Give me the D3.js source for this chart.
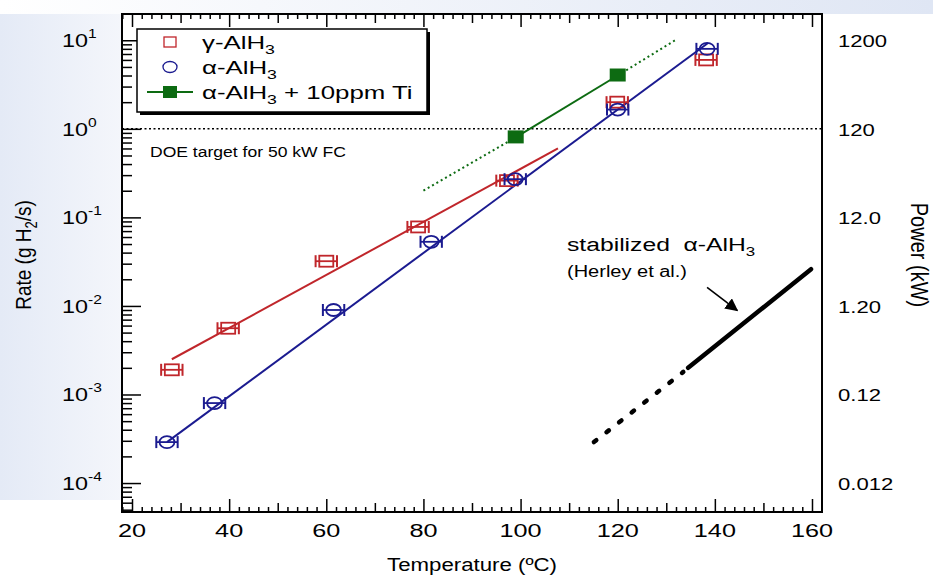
<!DOCTYPE html>
<html><head><meta charset="utf-8">
<script src="https://cdn.jsdelivr.net/npm/d3@7"></script>
<style>
html,body{margin:0;padding:0;background:#fff;}
svg text{font-family:"Liberation Sans",Arial,Helvetica,sans-serif;}
</style></head>
<body><svg id="c" width="933" height="577"></svg>
<script>
// ---- data ----
const gammaT    = [28.2, 39.8, 60.0, 78.9, 97.2, 119.9, 138.2];
const gammaRate = [1.9e-3, 5.6e-3, 0.032, 0.078, 0.26, 2.0, 6.0];
const alphaT    = [27.2, 37.0, 61.5, 81.6, 98.9, 120.0, 138.4];
const alphaRate = [2.9e-4, 8.0e-4, 0.009, 0.053, 0.27, 1.65, 8.0];
const tiT       = [99.0, 120.0];
const tiRate    = [0.80, 4.0];
const gammaFitT = [28.2, 107.7];
const gammaFitRate = [2.5e-3, 0.60];
const alphaFitT = [27.2, 138.6];
const alphaFitRate = [2.9e-4, 9.3];
const tiDotLowT = [80.0, 99.0];
const tiDotLowRate = [0.20, 0.80];
const tiDotHighT = [120.0, 132.2];
const tiDotHighRate = [4.0, 10.3];
const herleySolidT = [134.5, 159.8];
const herleySolidRate = [2.0e-3, 0.026];
const herleyDashT = [115.1, 133.5];
const herleyDashRate = [2.9e-4, 1.8e-3];
const arrowT = [138.4, 144.6];
const arrowRate = [0.0162, 0.0089];
const doeRate = 1.0;
const xTickLabels = [20, 40, 60, 80, 100, 120, 140, 160];
const yDecades = [1, 0, -1, -2, -3, -4];
const powerLabels = ["1200", "120", "12.0", "1.20", "0.12", "0.012"];

// ---- layout ----
const svg = d3.select("#c");
const L = 122, R = 822, T = 14, B = 512;
const x = d3.scaleLinear().domain([17.94, 162.06]).range([L, R]);
const y = d3.scaleLog().domain([4.71e-5, 19.8]).range([B, 14]);

const red = "#c0262b", blue = "#1b1b90", green = "#0d6b12";

// background tint
const defs = svg.append("defs");
const lg = defs.append("linearGradient").attr("id", "bgL").attr("x1", 0).attr("x2", 1).attr("y1", 0).attr("y2", 0);
lg.append("stop").attr("offset", 0).attr("stop-color", "#e4eaf6");
lg.append("stop").attr("offset", 1).attr("stop-color", "#f4f6fb");
const tg = defs.append("linearGradient").attr("id", "bgT").attr("x1", 0).attr("x2", 1).attr("y1", 0).attr("y2", 0);
tg.append("stop").attr("offset", 0).attr("stop-color", "#ffffff");
tg.append("stop").attr("offset", 1).attr("stop-color", "#dfe6f4");
svg.append("rect").attr("x", 0).attr("y", 0).attr("width", 933).attr("height", 577).attr("fill", "#fff");
svg.append("rect").attr("x", 0).attr("y", 0).attr("width", L).attr("height", 500).attr("fill", "url(#bgL)");
svg.append("rect").attr("x", 0).attr("y", 0).attr("width", 933).attr("height", T).attr("fill", "url(#bgT)");
svg.append("rect").attr("x", L).attr("y", T).attr("width", R - L).attr("height", B - T).attr("fill", "#fff");

function stretchText(sel, px, py, sx) {
  return sel.attr("transform", `translate(${px},${py}) scale(${sx || 1.3},1)`);
}

// ---- axes (ticks inward) ----
const minorY = [];
for (let e = -5; e <= 1; e++) for (let m = 2; m <= 9; m++) {
  const v = m * Math.pow(10, e);
  if (v >= y.domain()[0] && v <= y.domain()[1]) minorY.push(v);
}
const majorY = yDecades.map(e => Math.pow(10, e));
const axL = svg.append("g").attr("transform", `translate(${L},0)`);
axL.call(d3.axisLeft(y).tickValues(majorY).tickSizeInner(-19).tickSizeOuter(0).tickFormat(""));
axL.append("g").call(d3.axisLeft(y).tickValues(minorY).tickSizeInner(-10).tickSizeOuter(0).tickFormat(""));

const t2 = d3.range(18, 163, 2).filter(v => v % 10 !== 0);
const t10 = d3.range(30, 161, 20);
const t20 = xTickLabels;
const axB = svg.append("g").attr("transform", `translate(0,${B})`);
axB.call(d3.axisBottom(x).tickValues(t20).tickSizeInner(-13).tickSizeOuter(0).tickFormat(""));
axB.append("g").call(d3.axisBottom(x).tickValues(t10).tickSizeInner(-9).tickSizeOuter(0).tickFormat(""));
axB.append("g").call(d3.axisBottom(x).tickValues(t2).tickSizeInner(-5).tickSizeOuter(0).tickFormat(""));
const axT = svg.append("g").attr("transform", `translate(0,${T})`);
axT.call(d3.axisTop(x).tickValues(t20).tickSizeInner(-13).tickSizeOuter(0).tickFormat(""));
axT.append("g").call(d3.axisTop(x).tickValues(t10).tickSizeInner(-9).tickSizeOuter(0).tickFormat(""));
axT.append("g").call(d3.axisTop(x).tickValues(t2).tickSizeInner(-5).tickSizeOuter(0).tickFormat(""));
svg.selectAll(".domain").remove();
svg.selectAll(".tick line").attr("stroke", "#000").attr("stroke-width", 1.5);

// frame
svg.append("rect").attr("x", L).attr("y", T).attr("width", R - L).attr("height", B - T)
  .attr("fill", "none").attr("stroke", "#000").attr("stroke-width", 2);

// ---- tick labels ----
yDecades.forEach(e => {
  const t = svg.append("text").attr("font-size", 18).attr("fill", "#000");
  stretchText(t, 62, y(Math.pow(10, e)) + 7, 1.3);
  t.append("tspan").text("10");
  t.append("tspan").attr("font-size", 12).attr("dy", -9).text(String(e));
});
powerLabels.forEach((s, i) => {
  const t = svg.append("text").attr("font-size", 17).attr("fill", "#000").text(s);
  stretchText(t, 838, y(Math.pow(10, yDecades[i])) + 7, 1.3);
});
xTickLabels.forEach(v => {
  const t = svg.append("text").attr("font-size", 19).attr("text-anchor", "middle").attr("fill", "#000").text(v);
  stretchText(t, x(v), 537, 1.33);
});

// axis titles
stretchText(svg.append("text").attr("font-size", 17.5).attr("text-anchor", "middle").text("Temperature (ºC)"), 472, 571, 1.27);
const yt = svg.append("text").attr("font-size", 19).attr("text-anchor", "middle")
  .attr("transform", `translate(31,255) rotate(-90) scale(1,1.2)`);
yt.append("tspan").text("Rate (g H");
yt.append("tspan").attr("font-size", 13).attr("dy", 5).text("2");
yt.append("tspan").attr("dy", -5).text("/s)");
svg.append("text").attr("font-size", 20).attr("text-anchor", "middle")
  .attr("transform", `translate(911,255) rotate(90) scale(1,1.15)`).text("Power (kW)");

// ---- reference lines ----
svg.append("line").attr("x1", L).attr("x2", R).attr("y1", y(doeRate)).attr("y2", y(doeRate))
  .attr("stroke", "#000").attr("stroke-width", 1.5).attr("stroke-dasharray", "2,2.5");
stretchText(svg.append("text").attr("font-size", 15).text("DOE target for 50 kW FC"), 150, 157, 1.17);

const line = d3.line().x(d => x(d[0])).y(d => y(d[1]));
const zip = (a, b) => a.map((v, i) => [v, b[i]]);

svg.append("path").attr("d", line(zip(gammaFitT, gammaFitRate))).attr("stroke", red).attr("stroke-width", 2).attr("fill", "none");
svg.append("path").attr("d", line(zip(alphaFitT, alphaFitRate))).attr("stroke", blue).attr("stroke-width", 2).attr("fill", "none");
svg.append("path").attr("d", line(zip(tiDotLowT, tiDotLowRate))).attr("stroke", green).attr("stroke-width", 2).attr("stroke-dasharray", "2,3").attr("fill", "none");
svg.append("path").attr("d", line(zip(tiDotHighT, tiDotHighRate))).attr("stroke", green).attr("stroke-width", 2).attr("stroke-dasharray", "2,3").attr("fill", "none");
svg.append("path").attr("d", line(zip(tiT, tiRate))).attr("stroke", green).attr("stroke-width", 2).attr("fill", "none");

// Herley line
svg.append("path").attr("d", line(zip(herleySolidT, herleySolidRate))).attr("stroke", "#000").attr("stroke-width", 4.5).attr("stroke-linecap", "round").attr("fill", "none");
svg.append("path").attr("d", line(zip(herleyDashT, herleyDashRate))).attr("stroke", "#000").attr("stroke-width", 4.5).attr("stroke-dasharray", "3,13").attr("stroke-linecap", "round").attr("fill", "none");

// ---- markers ----
const eb = 2.2; // horizontal error half-width, degC
function errBar(g, t, r, color) {
  const cx = x(t), cy = y(r), x0 = x(t - eb), x1 = x(t + eb);
  g.append("line").attr("x1", x0).attr("x2", x1).attr("y1", cy).attr("y2", cy).attr("stroke", color).attr("stroke-width", 1.8);
  [x0, x1].forEach(xx => g.append("line").attr("x1", xx).attr("x2", xx).attr("y1", cy - 6).attr("y2", cy + 6).attr("stroke", color).attr("stroke-width", 2));
}
const gG = svg.append("g");
gammaT.forEach((t, i) => {
  errBar(gG, t, gammaRate[i], red);
  gG.append("rect").attr("x", x(t) - 7).attr("y", y(gammaRate[i]) - 5.5).attr("width", 14).attr("height", 11)
    .attr("fill", "none").attr("stroke", red).attr("stroke-width", 1.8);
});
const gA = svg.append("g");
alphaT.forEach((t, i) => {
  errBar(gA, t, alphaRate[i], blue);
  gA.append("ellipse").attr("cx", x(t)).attr("cy", y(alphaRate[i])).attr("rx", 7.5).attr("ry", 6)
    .attr("fill", "none").attr("stroke", blue).attr("stroke-width", 1.8);
});
svg.append("g").selectAll("rect").data(zip(tiT, tiRate)).join("rect")
  .attr("x", d => x(d[0]) - 8).attr("y", d => y(d[1]) - 7).attr("width", 16).attr("height", 13).attr("fill", green);

// ---- annotation ----
stretchText(svg.append("text").attr("font-size", 19).html("stabilized&#160; α-AlH<tspan font-size='13' dy='5'>3</tspan>"), 567, 251, 1.3);
stretchText(svg.append("text").attr("font-size", 16).text("(Herley et al.)"), 567, 277, 1.25);
defs.append("marker").attr("id", "ah").attr("viewBox", "0 0 10 10").attr("refX", 9).attr("refY", 5)
  .attr("markerWidth", 8).attr("markerHeight", 8).attr("orient", "auto")
  .append("path").attr("d", "M0,0 L10,5 L0,10 Z").attr("fill", "#000");
svg.append("path").attr("d", line(zip(arrowT, arrowRate)))
  .attr("stroke", "#000").attr("stroke-width", 1.6).attr("fill", "none").attr("marker-end", "url(#ah)");

// ---- legend ----
const lgG = svg.append("g");
lgG.append("rect").attr("x", 140).attr("y", 32).attr("width", 290).attr("height", 83).attr("fill", "#000");
lgG.append("rect").attr("x", 137).attr("y", 29).attr("width", 290).attr("height", 83).attr("fill", "#fff").attr("stroke", "#000").attr("stroke-width", 1.5);
lgG.append("rect").attr("x", 164).attr("y", 37).attr("width", 12).attr("height", 10).attr("fill", "none").attr("stroke", red).attr("stroke-width", 1.3);
lgG.append("ellipse").attr("cx", 170).attr("cy", 67).attr("rx", 7).attr("ry", 5.5).attr("fill", "none").attr("stroke", blue).attr("stroke-width", 1.3);
lgG.append("line").attr("x1", 147).attr("x2", 193).attr("y1", 92).attr("y2", 92).attr("stroke", green).attr("stroke-width", 2);
lgG.append("rect").attr("x", 163).attr("y", 86).attr("width", 14).attr("height", 12).attr("fill", green);
const legTexts = [["γ-AlH", "3", ""], ["α-AlH", "3", ""], ["α-AlH", "3", " + 10ppm Ti"]];
legTexts.forEach((p, i) => {
  const t = svg.append("text").attr("font-size", 19);
  stretchText(t, 202, 49 + i * 25, 1.36);
  t.append("tspan").text(p[0]);
  t.append("tspan").attr("font-size", 13).attr("dy", 5).text(p[1]);
  if (p[2]) t.append("tspan").attr("dy", -5).text(p[2]);
});
</script></body></html>
